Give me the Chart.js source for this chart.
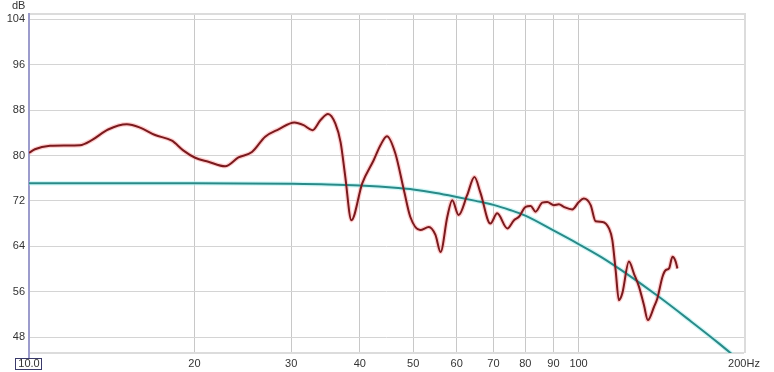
<!DOCTYPE html>
<html>
<head>
<meta charset="utf-8">
<script src="https://cdn.jsdelivr.net/npm/chart.js@4"></script>
<style>
  html, body { margin: 0; padding: 0; background: #ffffff; }
  #wrap { width: 774px; height: 372px; position: relative; }
</style>
</head>
<body>
<div id="wrap"><canvas id="c" width="774" height="372"></canvas></div>
<script>
// ---- data ----
const measFreq = [10.0, 10.25, 10.92, 11.63, 12.38, 13.01, 13.93, 15.07, 15.93, 16.96, 18.2, 19.08, 20.06, 21.2, 22.75, 24.05, 25.45, 26.9, 28.45, 30.4, 31.6, 32.8, 33.9, 35.0, 36.1, 36.9, 37.6, 38.6, 40.4, 42.4, 43.6, 44.8, 46.4, 48.1, 49.4, 51.5, 53.4, 54.9, 56.1, 57.7, 58.9, 60.5, 62.7, 64.65, 66.3, 69.1, 71.1, 74.2, 76.3, 77.9, 80.1, 81.8, 83.5, 85.9, 87.7, 90.2, 92.1, 94.0, 97.4, 100.1, 102.2, 105.2, 107.4, 110.5, 113.6, 115.2, 116.8, 118.4, 120.1, 123.5, 126.1, 128.8, 131.5, 133.7, 137.2, 139.1, 142.1, 144.1, 146.1, 148.2, 150.2, 151.3];
const measDb = [80.46, 81.1, 81.7, 81.77, 81.82, 82.7, 84.58, 85.5, 84.9, 83.6, 82.6, 80.9, 79.6, 78.9, 78.1, 79.65, 80.6, 83.3, 84.6, 85.8, 85.34, 84.46, 86.2, 87.3, 85.6, 82.3, 76.5, 68.6, 75.1, 79.2, 81.8, 83.4, 80.4, 73.9, 69.2, 66.85, 67.4, 66.0, 63.0, 69.2, 72.1, 69.5, 73.0, 76.2, 73.4, 68.0, 69.8, 67.15, 68.6, 69.2, 70.95, 71.1, 70.1, 71.7, 71.8, 71.25, 71.4, 70.95, 70.5, 71.8, 72.4, 71.25, 68.4, 68.3, 67.15, 65.1, 59.8, 54.5, 55.7, 61.3, 59.2, 56.9, 53.65, 51.0, 53.35, 54.8, 58.6, 59.8, 60.1, 62.15, 61.3, 60.1];
const targetFreq = [10, 20, 30, 35, 40, 47, 50, 55, 60, 65, 70, 75, 80, 90, 100, 110, 120, 140, 160, 180, 200];
const targetDb = [75.1, 75.1, 75.0, 74.9, 74.7, 74.25, 74.0, 73.4, 72.7, 72.0, 71.3, 70.4, 69.4, 66.8, 64.4, 62.1, 59.7, 55.1, 50.8, 46.9, 43.2];
const xTickValues = [10, 20, 30, 40, 50, 60, 70, 80, 90, 100, 200];
const xTickLabels = ["10.0", "20", "30", "40", "50", "60", "70", "80", "90", "100", "200Hz"];
const yTickValues = [48, 56, 64, 72, 80, 88, 96, 104];
const yTickLabels = ["48", "56", "64", "72", "80", "88", "96", "104"];
const yUnit = "dB";

const measPts = measFreq.map((f, i) => ({ x: f, y: measDb[i] }));
const targetPts = targetFreq.map((f, i) => ({ x: f, y: targetDb[i] }));

const FONT = "'Liberation Sans', Arial, sans-serif";

const framePlugin = {
  id: 'frame',
  beforeDatasetsDraw(chart) {
    const { ctx, chartArea: a } = chart;
    ctx.save();
    ctx.strokeStyle = '#dcdcdc';
    ctx.lineWidth = 2;
    ctx.beginPath();
    ctx.moveTo(a.left, a.top + 1);
    ctx.lineTo(a.right, a.top + 1);
    ctx.moveTo(a.right + 1, a.top);
    ctx.lineTo(a.right + 1, a.bottom);
    ctx.moveTo(a.left, a.bottom);
    ctx.lineTo(a.right, a.bottom);
    ctx.stroke();
    ctx.strokeStyle = '#9c9ccc';
    ctx.lineWidth = 2;
    ctx.beginPath();
    ctx.moveTo(a.left, a.top);
    ctx.lineTo(a.left, a.bottom + 5);
    ctx.stroke();
    ctx.restore();
  },
  afterDraw(chart) {
    const { ctx } = chart;
    const xs = chart.scales.x;
    ctx.save();
    ctx.font = '11px ' + FONT;
    ctx.fillStyle = '#333';
    ctx.textAlign = 'left';
    ctx.textBaseline = 'middle';
    ctx.fillText(yUnit, 12, 6);
    const px = xs.getPixelForValue(xTickValues[0]);
    const w = ctx.measureText(xTickLabels[0]).width;
    ctx.strokeStyle = '#3a3a6a';
    ctx.lineWidth = 1;
    ctx.strokeRect(Math.round(px - w / 2) - 2.5, 358.5, Math.round(w) + 5, 11);
    ctx.restore();
  }
};

new Chart(document.getElementById('c'), {
  type: 'line',
  data: {
    datasets: [
      { data: measPts, order: 1, borderColor: '#7a1a1e', borderWidth: 2, pointRadius: 0, cubicInterpolationMode: 'monotone', fill: false },
      { data: targetPts, order: 2, borderColor: '#2a8a88', borderWidth: 2, pointRadius: 0, cubicInterpolationMode: 'monotone', fill: false },
      { data: measPts, order: 3, borderColor: 'rgba(255,170,170,0.55)', borderWidth: 4.5, pointRadius: 0, cubicInterpolationMode: 'monotone', fill: false },
      { data: targetPts, order: 4, borderColor: 'rgba(170,240,240,0.55)', borderWidth: 4.5, pointRadius: 0, cubicInterpolationMode: 'monotone', fill: false }
    ]
  },
  options: {
    responsive: false,
    animation: false,
    devicePixelRatio: 1,
    layout: { padding: { left: 0, right: 30, top: 13, bottom: 0 } },
    plugins: { legend: { display: false }, tooltip: { enabled: false } },
    scales: {
      x: {
        type: 'logarithmic',
        min: 10, max: 200,
        afterBuildTicks: s => { s.ticks = xTickValues.map(v => ({ value: v })); },
        afterFit: s => { s.height = 19; s.paddingLeft = 0; s.paddingRight = 0; },
        ticks: {
          autoSkip: false, maxRotation: 0, padding: 4,
          font: { size: 11, family: FONT }, color: '#333',
          callback: (v, i) => xTickLabels[i]
        },
        grid: { color: '#c8c8c8', lineWidth: 1, drawTicks: false },
        border: { display: false }
      },
      y: {
        min: 45.2, max: 105.1,
        afterBuildTicks: s => { s.ticks = yTickValues.map(v => ({ value: v })); },
        afterFit: s => { s.width = 29; s.paddingTop = 0; s.paddingBottom = 0; },
        ticks: {
          autoSkip: false, padding: 4,
          font: { size: 11, family: FONT }, color: '#333',
          callback: (v, i) => yTickLabels[i]
        },
        grid: { color: '#d4d4d4', lineWidth: 1, drawTicks: false },
        border: { display: false }
      }
    }
  },
  plugins: [framePlugin]
});
</script>
</body>
</html>
